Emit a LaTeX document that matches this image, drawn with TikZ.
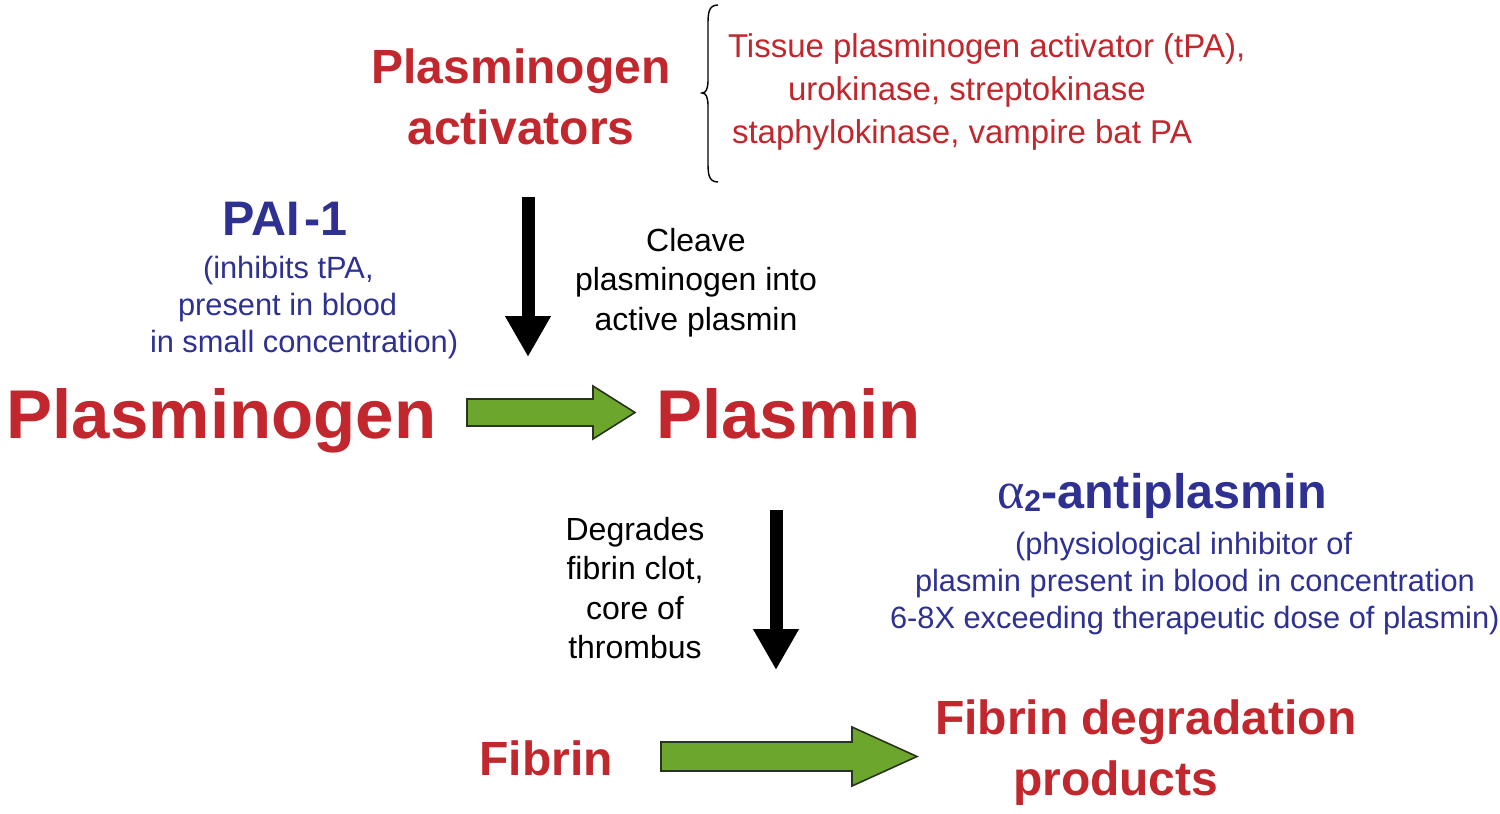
\documentclass[tikz,border=0pt]{standalone}
\usepackage{fontspec}
\setmainfont{Liberation Sans}
\newfontfamily\grkfont{Liberation Serif}
\usetikzlibrary{arrows.meta}
\definecolor{tred}{HTML}{C1272D}
\definecolor{tblue}{HTML}{2E3192}
\definecolor{tgreen}{HTML}{6CA62C}
\definecolor{tgreenline}{HTML}{2A3320}
\begin{document}
\begin{tikzpicture}[x=1pt,y=-1pt,inner sep=0pt,outer sep=0pt,
  redbig/.style={text=tred,font=\bfseries\fontsize{69}{80}\selectfont},
  redtitle/.style={text=tred,font=\bfseries\fontsize{48}{61}\selectfont},
  redlist/.style={text=tred,font=\fontsize{33}{43}\selectfont},
  bluetitle/.style={text=tblue,font=\bfseries\fontsize{48.5}{56}\selectfont},
  bluenote/.style={text=tblue,font=\fontsize{30.8}{37}\selectfont},
  blacknote/.style={text=black,font=\fontsize{32}{39.5}\selectfont},
  blackarrow/.style={draw=black,line width=13pt,-{Triangle[length=41pt,width=43pt]}},
  greenarrow/.style={fill=tgreen,draw=tgreenline,line width=1.6pt,line join=miter}]
\useasboundingbox[fill=white] (0,0) rectangle (1500,814);

% top: plasminogen activators (base = last line)
\node[redtitle,align=center,anchor=base] (pa) at (521,144) {Plasminogen\\activators};
\draw[line width=1.4pt,black] (718,5) .. controls (708,5) and (708,14) .. (708,26) -- (708,80)
  .. controls (708,89) and (706,93) .. (702,93) .. controls (706,93) and (708,97) .. (708,106)
  -- (708,161) .. controls (708,173) and (708,182) .. (718,182);
\node[redlist,align=left,anchor=base west] (list) at (728,143)
  {Tissue plasminogen activator (tPA),\\\hspace*{60pt}urokinase, streptokinase\\\hspace*{4pt}staphylokinase, vampire bat PA};

% PAI-1
\node[bluetitle,anchor=base] (pai) at (285,235) {PAI\hspace{5pt}-1};
\node[bluenote,align=left,anchor=base west] (painote) at (150,352)
  {\hspace*{53pt}(inhibits tPA,\\\hspace*{28pt}present in blood\\in small concentration)};

% cleave
\node[blacknote,align=center,anchor=base] (cleave) at (696,330) {Cleave\\plasminogen into\\active plasmin};
\coordinate (a1s) at (528,197);
\coordinate (a1e) at (528,357);
\draw[blackarrow] (a1s) -- (a1e);

% main row
\node[redbig,anchor=base] (plg) at (221.5,438) {Plasminogen};
\node[redbig,anchor=base] (pls) at (788.5,438) {Plasmin};
\coordinate (g1) at (467,411.5);
\draw[greenarrow] (g1) ++(0,-12.5) -- ++(126,0) -- ++(0,-13) -- ++(42,26.5) -- ++(-42,26.5) -- ++(0,-13) -- ++(-126,0) -- cycle;

% degrades
\node[blacknote,align=center,anchor=base] (degr) at (635,658.5) {Degrades\\fibrin clot,\\core of\\thrombus};
\coordinate (a2s) at (776,510);
\coordinate (a2e) at (776,670);
\draw[blackarrow] (a2s) -- (a2e);

% alpha2-antiplasmin
\node[bluetitle,anchor=base] (a2ap) at (1162,508) {{\grkfont\mdseries\fontsize{52}{56}\selectfont α}\raisebox{-3pt}{\fontsize{30}{30}\selectfont 2}-antiplasmin};
\node[bluenote,align=left,anchor=base west] (a2note) at (890,628)
  {\hspace*{125pt}(physiological inhibitor of\\\hspace*{25pt}plasmin present in blood in concentration\\6-8X exceeding therapeutic dose of plasmin)};

% bottom row
\node[redtitle,anchor=base] (fib) at (546,775) {Fibrin};
\node[redtitle,align=left,anchor=base west] (fdp) at (935,795) {Fibrin degradation\\\hspace*{78pt}products};
\coordinate (g2) at (661,756.5);
\draw[greenarrow] (g2) ++(0,-14.5) -- ++(191,0) -- ++(0,-15) -- ++(65,29.5) -- ++(-65,29.5) -- ++(0,-15) -- ++(-191,0) -- cycle;
\end{tikzpicture}
\end{document}
